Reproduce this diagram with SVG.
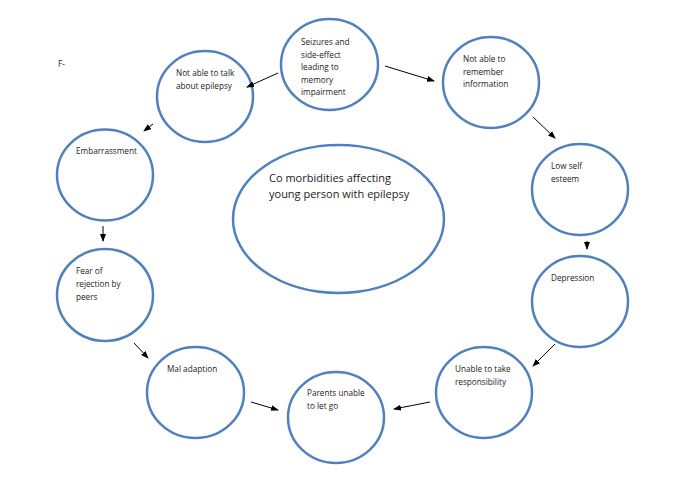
<svg xmlns="http://www.w3.org/2000/svg" width="685" height="484" viewBox="0 0 685 484">
<style>
.n{fill:none;stroke:#4F81BD;stroke-width:2.5}
.t{font-family:"Open Sans","Liberation Sans",sans-serif;font-size:8.2px;fill:#222}
.c{font-family:"Open Sans","Liberation Sans",sans-serif;font-size:11px;fill:#222}
.a{stroke:#000;stroke-width:1;fill:none;marker-end:url(#ah)}
</style>
<defs>
<marker id="ah" markerWidth="8" markerHeight="6" refX="7" refY="3" orient="auto" markerUnits="userSpaceOnUse">
<path d="M0,0 L8,3 L0,6 Z" fill="#000"/>
</marker>
</defs>
<rect width="685" height="484" fill="#fff"/>
<text class="t" x="58" y="67">F-</text>
<g id="center"><ellipse class="n" cx="338.5" cy="219" rx="105.5" ry="74"/>
<text class="c" x="269" y="182">Co morbidities affecting</text>
<text class="c" x="269" y="198">young person with epilepsy</text></g>
<g id="seizures"><ellipse class="n" cx="329.5" cy="64.5" rx="48.5" ry="45.5"/>
<text class="t" x="301" y="45">Seizures and</text>
<text class="t" x="301" y="57.5">side-effect</text>
<text class="t" x="301" y="70">leading to</text>
<text class="t" x="301" y="82.5">memory</text>
<text class="t" x="301" y="95">impairment</text></g>
<g id="talk"><ellipse class="n" cx="205" cy="96.5" rx="48" ry="45.5"/>
<text class="t" x="176" y="76">Not able to talk</text>
<text class="t" x="176" y="88.5">about epilepsy</text></g>
<g id="remember"><ellipse class="n" cx="491" cy="82.5" rx="48" ry="45.5"/>
<text class="t" x="463" y="62">Not able to</text>
<text class="t" x="463" y="74.5">remember</text>
<text class="t" x="463" y="87">information</text></g>
<g id="lowself"><ellipse class="n" cx="580" cy="189.5" rx="48" ry="45.5"/>
<text class="t" x="551" y="169">Low self</text>
<text class="t" x="551" y="181.5">esteem</text></g>
<g id="depression"><ellipse class="n" cx="580" cy="301.5" rx="48" ry="45.5"/>
<text class="t" x="551" y="281">Depression</text></g>
<g id="unable"><ellipse class="n" cx="484" cy="392.5" rx="48" ry="45.5"/>
<text class="t" x="455" y="372">Unable to take</text>
<text class="t" x="455" y="384.5">responsibility</text></g>
<g id="parents"><ellipse class="n" cx="336" cy="417.5" rx="48" ry="45.5"/>
<text class="t" x="307" y="396">Parents unable</text>
<text class="t" x="307" y="408.5">to let go</text></g>
<g id="maladaption"><ellipse class="n" cx="195.5" cy="392.5" rx="48.5" ry="45.5"/>
<text class="t" x="167" y="372">Mal adaption</text></g>
<g id="fear"><ellipse class="n" cx="105" cy="295" rx="48" ry="46"/>
<text class="t" x="76" y="274">Fear of</text>
<text class="t" x="76" y="287">rejection by</text>
<text class="t" x="76" y="300">peers</text></g>
<g id="embarrassment"><ellipse class="n" cx="105" cy="175" rx="48" ry="45.5"/>
<text class="t" x="76" y="154">Embarrassment</text></g>
<g id="connectors">
<line class="a" x1="278" y1="73" x2="247" y2="87"/>
<line class="a" x1="385" y1="66" x2="434" y2="81"/>
<line class="a" x1="533" y1="117" x2="555" y2="138"/>
<line class="a" x1="587" y1="241" x2="587" y2="249"/>
<line class="a" x1="555" y1="344" x2="533" y2="366"/>
<line class="a" x1="430" y1="402" x2="394" y2="409"/>
<line class="a" x1="251" y1="402" x2="278" y2="410"/>
<line class="a" x1="134" y1="343" x2="148" y2="358"/>
<line class="a" x1="103" y1="226" x2="103" y2="241"/>
<line class="a" x1="153" y1="124" x2="144" y2="131"/>
</g>
</svg>
